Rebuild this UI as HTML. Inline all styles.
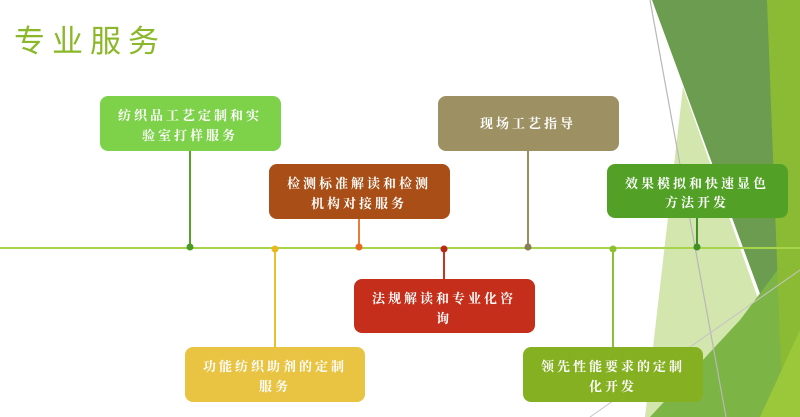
<!DOCTYPE html>
<html><head><meta charset="utf-8"><style>
html,body{margin:0;padding:0;background:#fff;}
svg{display:block;}
text{font-family:"Liberation Serif","Noto Serif CJK SC",serif;}
.t{fill:#fff;font-size:13px;letter-spacing:3px;text-anchor:middle;font-weight:bold;}
</style></head><body>
<svg width="800" height="417" viewBox="0 0 800 417" xmlns="http://www.w3.org/2000/svg">
<rect width="800" height="417" fill="#fff"/>
<!-- background decoration -->
<polygon points="683,87 800,417 645,417" fill="#d3e6ad"/>
<polygon points="652,0 767,0 800,200 800,417 777,340" fill="#6c9c4f"/>
<polygon points="800,240 800,417 650,417 740,320" fill="#7db446"/>
<polygon points="767,0 800,0 800,417 783,417" fill="#8bbb35"/>
<polygon points="800,330 800,417 760,417" fill="#9ac83a"/>
<line x1="650" y1="0" x2="726" y2="417" stroke="#b8b8b8" stroke-width="1.2"/>
<line x1="590" y1="417" x2="800" y2="270" stroke="#c4c4c4" stroke-width="1"/>
<!-- title -->
<text x="14" y="52" font-size="31" fill="#8ab828" letter-spacing="7" style="font-family:'Liberation Sans','Noto Sans CJK SC',sans-serif;">专业服务</text>
<!-- timeline -->
<line x1="0" y1="248" x2="800" y2="248" stroke="#a8d44a" stroke-width="2"/>
<!-- connectors -->
<line x1="190" y1="151" x2="190" y2="248" stroke="#5aa02c" stroke-width="2"/>
<line x1="359" y1="218" x2="359" y2="248" stroke="#e87a3a" stroke-width="2"/>
<line x1="528" y1="151" x2="528" y2="248" stroke="#9a8d62" stroke-width="2"/>
<line x1="697" y1="218" x2="697" y2="248" stroke="#3f8f24" stroke-width="2"/>
<line x1="275" y1="248" x2="275" y2="347" stroke="#e8c030" stroke-width="2"/>
<line x1="444" y1="248" x2="444" y2="280" stroke="#c8341e" stroke-width="2"/>
<line x1="613" y1="248" x2="613" y2="347" stroke="#8cc030" stroke-width="2"/>
<circle cx="190" cy="247" r="3.5" fill="#4a9a28"/>
<circle cx="275" cy="249" r="3.5" fill="#e8b820"/>
<circle cx="359" cy="247" r="3.5" fill="#e86820"/>
<circle cx="444" cy="249" r="3.5" fill="#b82818"/>
<circle cx="528" cy="247" r="3.5" fill="#8a7d5a"/>
<circle cx="613" cy="249" r="3.5" fill="#8cc030"/>
<circle cx="697" cy="247" r="3.5" fill="#3f8f24"/>
<!-- boxes -->
<rect x="100" y="96" width="181" height="55" rx="8" fill="#7dd24a"/>
<text class="t" x="190" y="120">纺织品工艺定制和实</text><text class="t" x="190" y="140">验室打样服务</text>
<rect x="269" y="164" width="181" height="55" rx="8" fill="#a84e16"/>
<text class="t" x="359" y="188">检测标准解读和检测</text><text class="t" x="359" y="208">机构对接服务</text>
<rect x="438" y="96" width="181" height="55" rx="8" fill="#9d9163"/>
<text class="t" x="528" y="128">现场工艺指导</text>
<rect x="607" y="164" width="181" height="54" rx="8" fill="#52a126"/>
<text class="t" x="697" y="188">效果模拟和快速显色</text><text class="t" x="697" y="207">方法开发</text>
<rect x="185" y="347" width="180" height="55" rx="8" fill="#e9c342"/>
<text class="t" x="275" y="371">功能纺织助剂的定制</text><text class="t" x="275" y="391">服务</text>
<rect x="354" y="279" width="181" height="54" rx="8" fill="#c52e1a"/>
<text class="t" x="444" y="303">法规解读和专业化咨</text><text class="t" x="444" y="323">询</text>
<rect x="523" y="347" width="180" height="55" rx="8" fill="#85b022"/>
<text class="t" x="613" y="371">领先性能要求的定制</text><text class="t" x="613" y="391">化开发</text>
</svg>
</body></html>
